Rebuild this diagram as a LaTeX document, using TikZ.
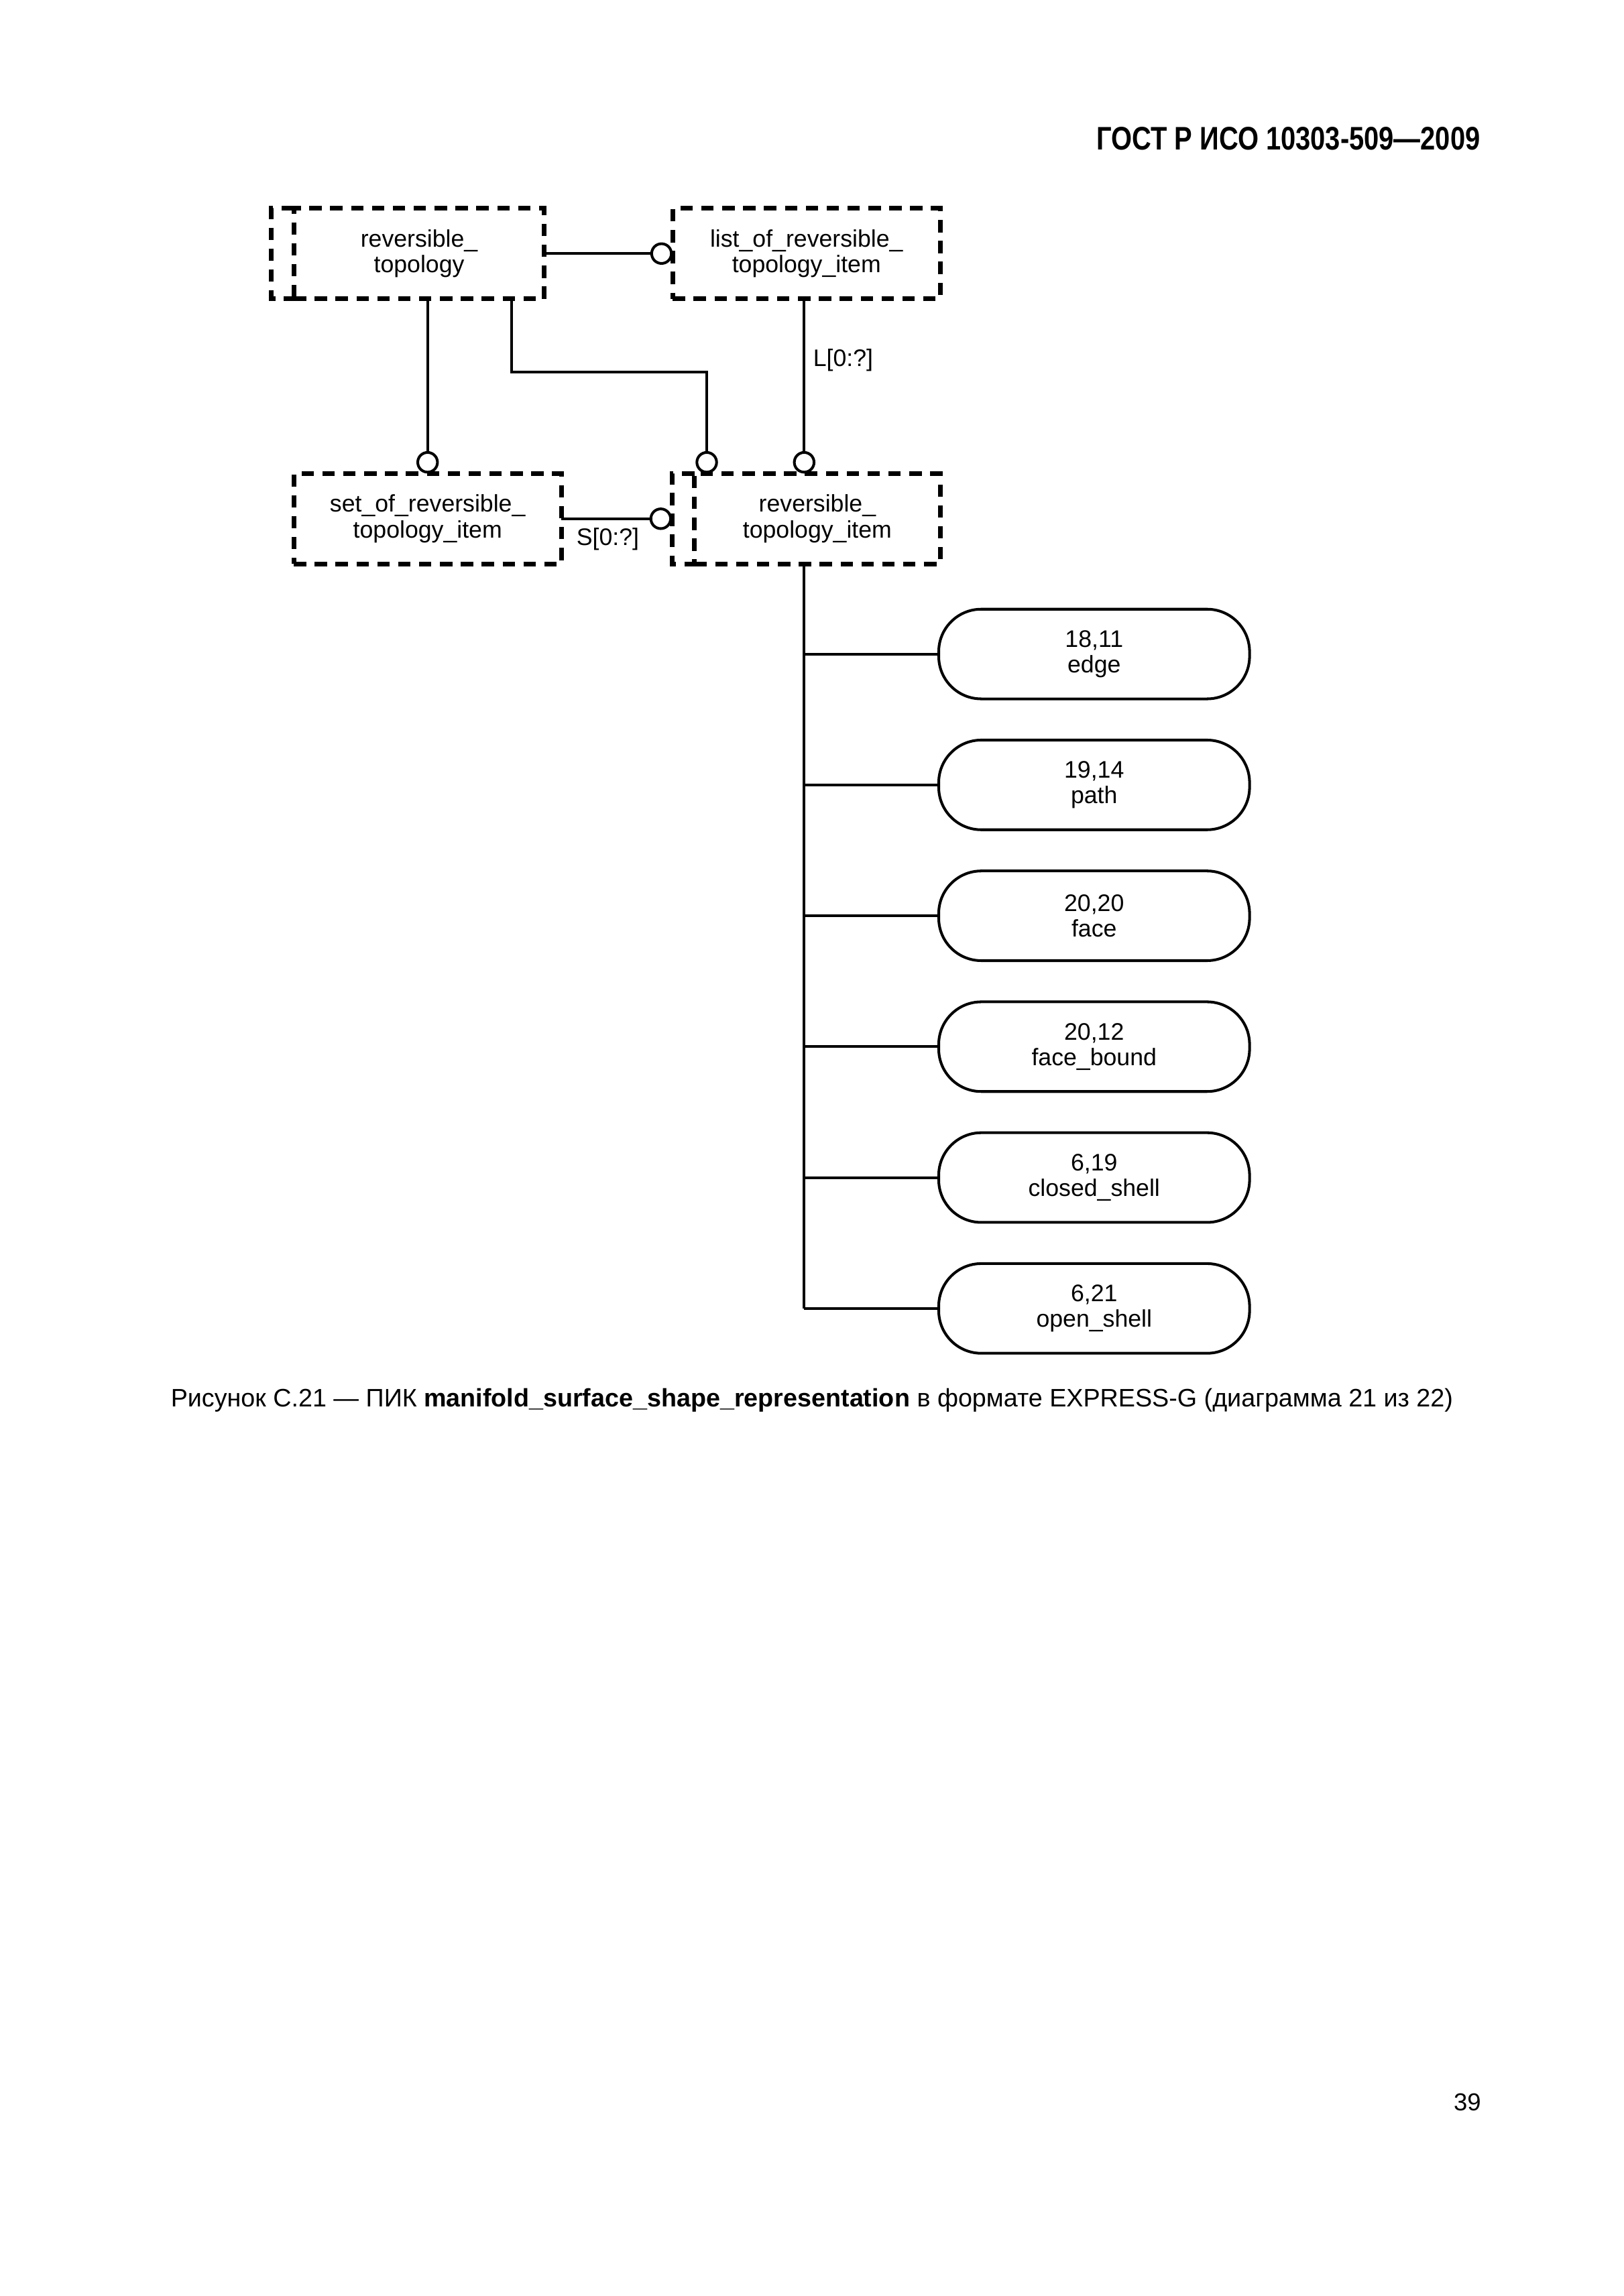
\documentclass[tikz,border=0pt]{standalone}
\usepackage{fontspec}
\setmainfont{Liberation Sans}
\newfontfamily\headfont[FakeStretch=0.82]{Liberation Sans}
\usetikzlibrary{positioning, arrows.meta}
\tikzset{x=1mm, y=1mm, every node/.style={font=\fontsize{8.8}{9.5}\selectfont, align=center, outer sep=0pt},
	entity/.style={draw, line width=0.6mm, dash pattern=on 1.6mm off 1.1mm, minimum height=11.7mm, inner sep=0pt},
	dashline/.style={line width=0.6mm, dash pattern=on 1.6mm off 1.1mm},
	leaf/.style={draw, line width=0.35mm, rounded corners=5.5mm, minimum width=40.2mm, minimum height=11.6mm, inner sep=0pt},
	link/.style={line width=0.35mm, -{Circle[open, length=2.9mm, width=2.9mm]}},
	branch/.style={line width=0.35mm}}

\begin{document}
\begin{tikzpicture}
	\useasboundingbox (0,0) rectangle (210,-297);
	% header and page number
	\node[anchor=base east, font=\headfont\bfseries\fontsize{12}{14}\selectfont] (Header) at (192.6,-19.4) {ГОСТ Р ИСО 10303-509—2009};
	\node[anchor=base east, font=\fontsize{9}{11}\selectfont] (Page) at (192.7,-273.0) {39};
	% entities
	\node[entity, minimum width=32.4mm] (RevTopology) at (54.2,-32.8) {reversible\_\\topology};
	\node[entity, minimum width=34.6mm, right=16.6mm of RevTopology] (ListItem) {list\_of\_reversible\_\\topology\_item};
	\node[entity, minimum width=34.6mm, below=22.6mm of RevTopology, xshift=1.1mm] (SetItem) {set\_of\_reversible\_\\topology\_item};
	\node[entity, minimum width=31.8mm, right=17.2mm of SetItem] (RevItem) {reversible\_\\topology\_item};
	\draw[dashline] (RevTopology.north west) -- ++(-2.9,0) |- (RevTopology.south west);
	\draw[dashline] (RevItem.north west) -- ++(-2.9,0) |- (RevItem.south west);
	% subtypes
	\node[leaf] (Edge) at (141.5,-84.6) {18,11\\edge};
	\node[leaf, below=5.33mm of Edge] (Path) {19,14\\path};
	\node[leaf, below=5.33mm of Path] (Face) {20,20\\face};
	\node[leaf, below=5.33mm of Face] (FaceBound) {20,12\\face\_bound};
	\node[leaf, below=5.33mm of FaceBound] (ClosedShell) {6,19\\closed\_shell};
	\node[leaf, below=5.33mm of ClosedShell] (OpenShell) {6,21\\open\_shell};
	% relations
	\draw[link] (RevTopology) -- (ListItem);
	\draw[link] (RevTopology.south -| SetItem.north) -- (SetItem.north);
	\draw[link] ([xshift=12mm]RevTopology.south) -- ++(0,-9.5) -| ([xshift=1.6mm]RevItem.north west);
	\draw[link] ([xshift=-0.3mm]ListItem.south) -- ([xshift=-0.3mm]ListItem.south |- RevItem.north) node[right, pos=0.35]{L[0:?]};
	\draw[link] (SetItem) -- ([xshift=-2.9mm]RevItem.west) node[below, pos=0.42]{S[0:?]};
	\coordinate (Trunk) at ([xshift=-0.3mm]ListItem.south |- RevItem.south);
	\draw[branch] (Trunk) -- (Trunk |- OpenShell.west);
	\foreach \n in {Edge,Path,Face,FaceBound,ClosedShell,OpenShell}
		\draw[branch] (Trunk |- \n.west) -- (\n.west);
	% caption
	\node[anchor=base, font=\fontsize{9.3}{11}\selectfont] (Caption) at (105.0,-182.0) {Рисунок С.21 — ПИК \textbf{manifold\_surface\_shape\_representation} в формате EXPRESS-G (диаграмма 21 из 22)};
\end{tikzpicture}
\end{document}
